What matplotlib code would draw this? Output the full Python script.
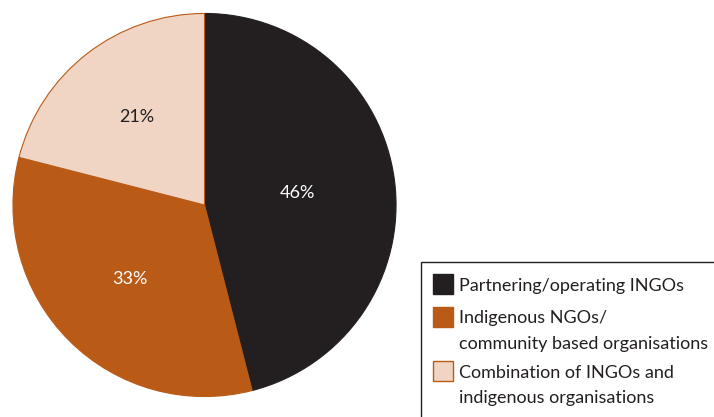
import matplotlib.pyplot as plt
from matplotlib.patches import Rectangle
import numpy as np

# ---------- Data ----------
categories = [
    "Partnering/operating INGOs",
    "Indigenous NGOs/\ncommunity based organisations",
    "Combination of INGOs and\nindigenous organisations",
]
shares = [46, 33, 21]
pct_labels = ["46%", "33%", "21%"]

colors = ["#231F20", "#BA5A17", "#F0D5C4"]
edge_colors = ["#231F20", "#BA5A17", "#BA5A17"]
label_colors = ["white", "white", "#231F20"]
label_radius = [0.49, 0.55, 0.58]

plt.rcParams["font.family"] = ["Lato", "DejaVu Sans"]

W, H = 714, 417
fig = plt.figure(figsize=(W / 100, H / 100), dpi=100)
fig.patch.set_facecolor("white")

# ---------- Pie ----------
cx, cy, r = 204.5, 205, 192.5
ax = fig.add_axes([(cx - r) / W, (H - cy - r) / H, 2 * r / W, 2 * r / H])
wedges, _ = ax.pie(
    shares,
    colors=colors,
    startangle=90,
    counterclock=False,
    radius=1,
    wedgeprops=dict(linewidth=0.8),
)
for w, ec in zip(wedges, edge_colors):
    w.set_edgecolor(ec)
for w, lab, lc, rr in zip(wedges, pct_labels, label_colors, label_radius):
    ang = np.deg2rad((w.theta1 + w.theta2) / 2)
    ax.text(rr * np.cos(ang), rr * np.sin(ang), lab, ha="center", va="center",
            fontsize=13, color=lc)
ax.set_xlim(-1.005, 1.005)
ax.set_ylim(-1.005, 1.005)
ax.set_aspect("equal")
ax.axis("off")

# ---------- Legend (drawn by hand, runs off the right/bottom edge) ----------
def fx(x):
    return x / W

def fy(y):
    return (H - y) / H

fig.patches.append(Rectangle((fx(421), fy(430)), fx(320), (430 - 262) / H,
                             transform=fig.transFigure, facecolor="white",
                             edgecolor="#231F20", linewidth=1.0))

swatch_tops = [274, 307, 361]
line_step = 25
for top, col, ec, txt in zip(swatch_tops, colors, edge_colors, categories):
    fig.patches.append(Rectangle((fx(433), fy(top + 20)), fx(20), 20 / H,
                                 transform=fig.transFigure, facecolor=col,
                                 edgecolor=ec, linewidth=1.0))
    for i, line in enumerate(txt.split("\n")):
        fig.text(fx(459), fy(top + 10 + i * line_step), line, ha="left",
                 va="center_baseline", fontsize=13, color="#231F20")

fig.savefig("out.png", dpi=100)
